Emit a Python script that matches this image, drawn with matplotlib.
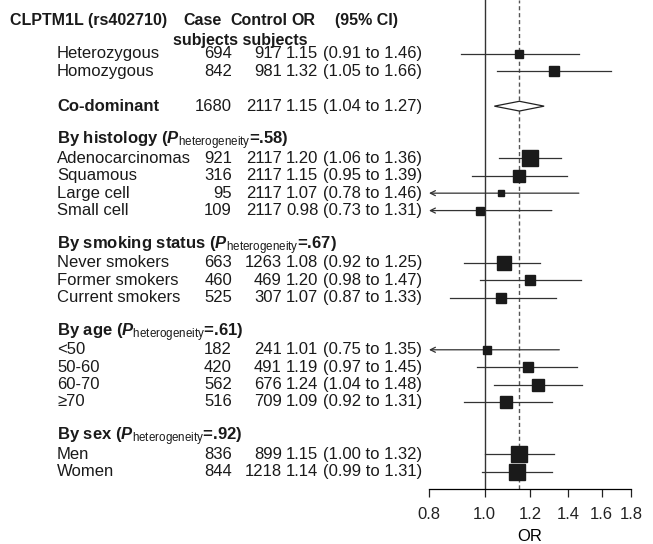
import numpy as np
import matplotlib
matplotlib.use("Agg")
import matplotlib.pyplot as plt
from matplotlib.transforms import blended_transform_factory
from matplotlib.patches import Polygon

plt.rcParams["font.family"] = ["Liberation Sans", "DejaVu Sans"]
plt.rcParams["mathtext.fontset"] = "custom"
plt.rcParams["mathtext.rm"] = "Liberation Sans"
plt.rcParams["mathtext.it"] = "Liberation Sans:italic"
plt.rcParams["mathtext.bf"] = "Liberation Sans:bold"
plt.rcParams["mathtext.bfit"] = "Liberation Sans:bold:italic"

# DATA
geno_labels = ["Heterozygous", "Homozygous"]
geno_cases = [694, 842]
geno_controls = [917, 981]
geno_or = [1.15, 1.32]
geno_lo = [0.91, 1.05]
geno_hi = [1.46, 1.66]

codom_cases = 1680
codom_controls = 2117
codom_or = 1.15
codom_lo = 1.04
codom_hi = 1.27

hist_labels = ["Adenocarcinomas", "Squamous", "Large cell", "Small cell"]
hist_cases = [921, 316, 95, 109]
hist_controls = [2117, 2117, 2117, 2117]
hist_or = [1.20, 1.15, 1.07, 0.98]
hist_lo = [1.06, 0.95, 0.78, 0.73]
hist_hi = [1.36, 1.39, 1.46, 1.31]

smoke_labels = ["Never smokers", "Former smokers", "Current smokers"]
smoke_cases = [663, 460, 525]
smoke_controls = [1263, 469, 307]
smoke_or = [1.08, 1.20, 1.07]
smoke_lo = [0.92, 0.98, 0.87]
smoke_hi = [1.25, 1.47, 1.33]

age_labels = ["<50", "50-60", "60-70", "\u226570"]
age_cases = [182, 420, 562, 516]
age_controls = [241, 491, 676, 709]
age_or = [1.01, 1.19, 1.24, 1.09]
age_lo = [0.75, 0.97, 1.04, 0.92]
age_hi = [1.35, 1.45, 1.48, 1.31]

sex_labels = ["Men", "Women"]
sex_cases = [836, 844]
sex_controls = [899, 1218]
sex_or = [1.15, 1.14]
sex_lo = [1.00, 0.99]
sex_hi = [1.32, 1.31]

groups = [
    ("By histology", ".58", hist_labels, hist_cases, hist_controls, hist_or, hist_lo, hist_hi),
    ("By smoking status", ".67", smoke_labels, smoke_cases, smoke_controls, smoke_or, smoke_lo, smoke_hi),
    ("By age", ".61", age_labels, age_cases, age_controls, age_or, age_lo, age_hi),
    ("By sex", ".92", sex_labels, sex_cases, sex_controls, sex_or, sex_lo, sex_hi),
]

W, H = 653, 544
fig = plt.figure(figsize=(W / 100, H / 100), dpi=100)
ax = fig.add_axes([429 / W, (H - 489) / H, (631 - 429) / W, 489 / H])
ax.set_xscale("log")
ax.set_xlim(0.8, 1.8)
ax.set_ylim(25.0, -3.1)

ticks = [0.8, 1.0, 1.2, 1.4, 1.6, 1.8]
ax.set_xticks(ticks)
ax.set_xticklabels(["%.1f" % t for t in ticks], fontsize=12)
ax.minorticks_off()
ax.tick_params(axis="x", length=6, width=0.9, pad=7, colors="#222222")
ax.set_yticks([])
for s in ["left", "right", "top"]:
    ax.spines[s].set_visible(False)
ax.spines["bottom"].set_linewidth(0.9)
ax.set_xlabel("OR", fontsize=12, labelpad=5)

ax.axvline(1.0, color="#333333", lw=1.0, zorder=1)
ax.axvline(1.15, color="#555555", lw=1.0, ls=(0, (3, 2)), zorder=1)

tr = blended_transform_factory(fig.transFigure, ax.transData)
FS = 12
ink = "#1a1a1a"


def txt(px, y, s, ha="left", **kw):
    fig.text(px / W, y, s, transform=tr, ha=ha, va="center", fontsize=kw.pop("fontsize", FS),
             color=ink, clip_on=False, **kw)


def row_text(y, label, case, ctrl, orv, lo, hi, bold=False):
    w = "bold" if bold else "normal"
    txt(57, y, label, fontweight=w)
    txt(232, y, str(case), ha="right")
    txt(282, y, str(ctrl), ha="right")
    txt(286, y, "%.2f" % orv)
    txt(323, y, "(%.2f to %.2f)" % (lo, hi))


def forest(y, orv, lo, hi):
    se = (np.log(hi) - np.log(lo)) / 3.92
    side_px = 1.08 / se
    if lo < 0.8:
        ax.annotate("", xy=(0.8, y), xytext=(hi, y),
                    arrowprops=dict(arrowstyle="->", color="#333333", lw=0.9,
                                    shrinkA=0, shrinkB=0, mutation_scale=9))
    else:
        ax.plot([lo, hi], [y, y], color="#333333", lw=0.9, zorder=2)
    ax.plot([orv], [y], marker="s", ms=side_px * 0.72, color=ink, mec=ink, zorder=3)


# header
HFS = 11.5
txt(10, -1.95, "CLPTM1L (rs402710)", fontweight="bold", fontsize=HFS)
txt(183, -1.95, "Case", fontweight="bold", fontsize=HFS)
txt(230, -1.95, "Control", fontweight="bold", fontsize=HFS)
txt(291, -1.95, "OR", fontweight="bold", fontsize=HFS)
txt(335, -1.95, "(95% CI)", fontweight="bold", fontsize=HFS)
txt(173, -0.8, "subjects subjects", fontweight="bold", fontsize=HFS)

y = 0
for i in range(len(geno_labels)):
    row_text(y, geno_labels[i], geno_cases[i], geno_controls[i], geno_or[i], geno_lo[i], geno_hi[i])
    forest(y, geno_or[i], geno_lo[i], geno_hi[i])
    y += 1

y += 1
row_text(y, "Co-dominant", codom_cases, codom_controls, codom_or, codom_lo, codom_hi, bold=True)
dh = 0.28
ax.add_patch(Polygon([(codom_lo, y), (codom_or, y - dh), (codom_hi, y), (codom_or, y + dh)],
                     closed=True, facecolor="white", edgecolor="#222222", lw=0.9, zorder=3))
y += 1

for name, p, labs, cs, ct, ors, los, his in groups:
    y += 1
    txt(57, y, name + r" ($\mathbfit{P}_{\mathrm{heterogeneity}}$=" + p + ")", fontweight="bold")
    y += 1
    for i in range(len(labs)):
        row_text(y, labs[i], cs[i], ct[i], ors[i], los[i], his[i])
        forest(y, ors[i], los[i], his[i])
        y += 1

fig.savefig("out.png", dpi=100)
